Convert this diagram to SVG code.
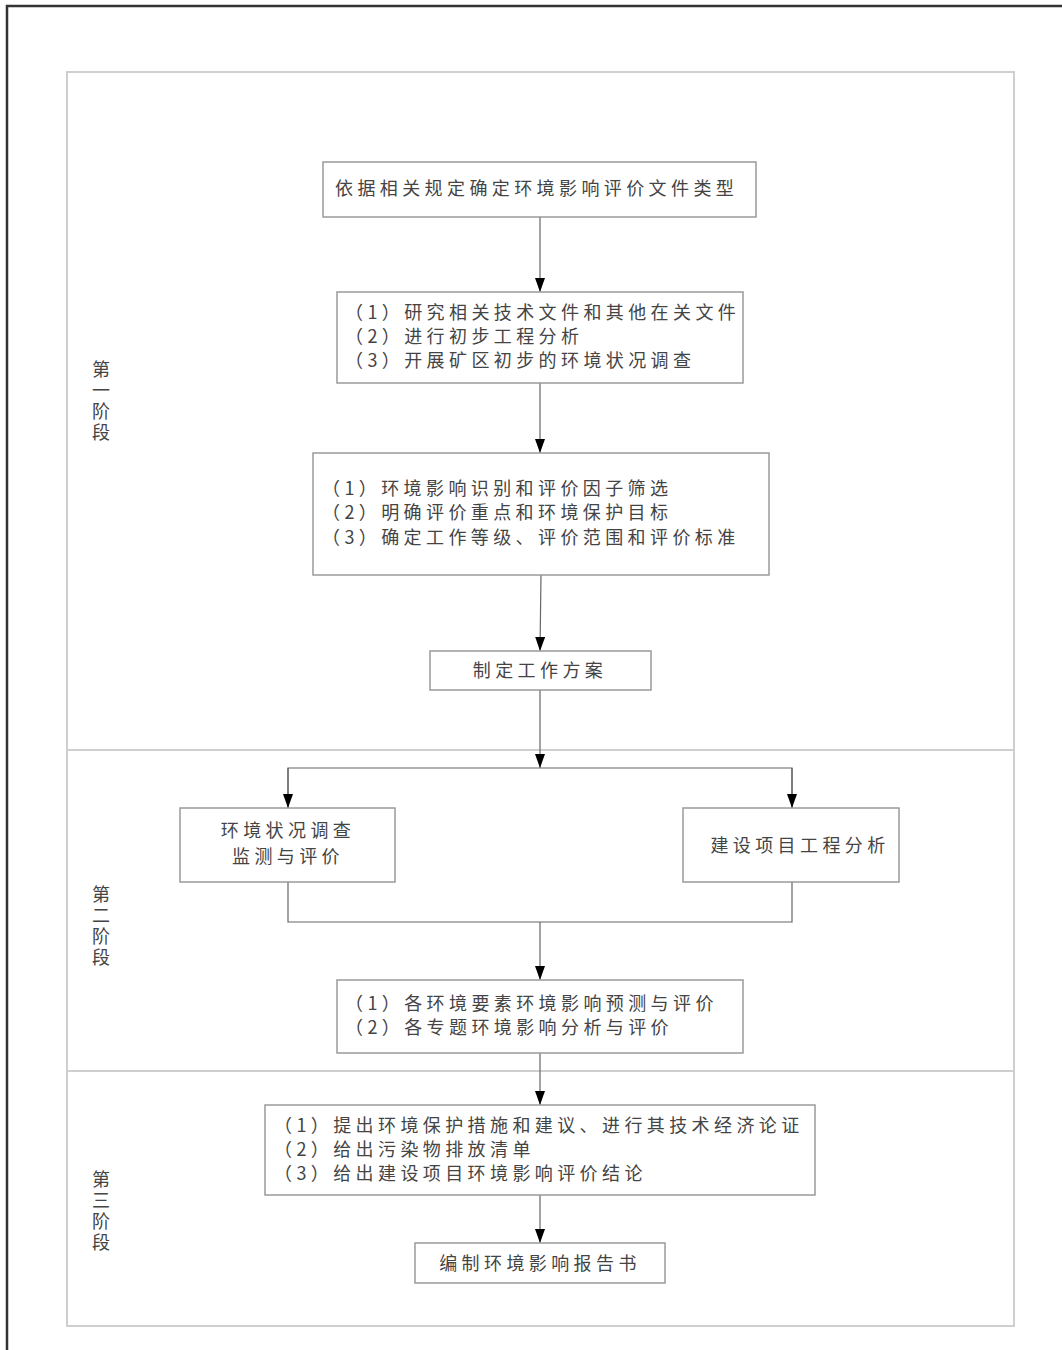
<svg xmlns="http://www.w3.org/2000/svg" width="1062" height="1350" viewBox="0 0 1062 1350">
<defs>
<style>
.bx{fill:#fff;stroke:#9a9a9a;stroke-width:1.5}
.t{font-family:"Noto Sans CJK SC","Liberation Serif",serif;font-size:18px;fill:#444;letter-spacing:4.4px}
.ph{font-family:"Noto Sans CJK SC","Liberation Serif",serif;font-size:18px;fill:#444;writing-mode:vertical-rl;letter-spacing:3px}
.c{fill:none;stroke:#666;stroke-width:1.2}
.fr{fill:none;stroke:#cfcfcf;stroke-width:2}
</style>
<marker id="ar" viewBox="0 0 14 10" refX="14" refY="5" markerWidth="14" markerHeight="10" markerUnits="userSpaceOnUse" orient="auto">
<path d="M0,0 L14,5 L0,10 Z" fill="#000"/>
</marker>
</defs>
<rect width="1062" height="1350" fill="#fff"/>
<rect x="7" y="6" width="1070" height="1360" fill="none" stroke="#333" stroke-width="2.5"/>
<g id="frame">
<rect class="fr" x="67" y="72" width="947" height="1254"/>
<line class="fr" x1="67" y1="750" x2="1014" y2="750"/>
<line class="fr" x1="67" y1="1071" x2="1014" y2="1071"/>
</g>
<g id="phase1"><text class="ph" x="101" y="360">第一阶段</text></g>
<g id="phase2"><text class="ph" x="101" y="885">第二阶段</text></g>
<g id="phase3"><text class="ph" x="101" y="1170">第三阶段</text></g>
<g id="connectors">
<line class="c" x1="540" y1="217" x2="540" y2="292" marker-end="url(#ar)"/>
<line class="c" x1="540" y1="383" x2="540" y2="453" marker-end="url(#ar)"/>
<line class="c" x1="541" y1="575" x2="540" y2="651" marker-end="url(#ar)"/>
<line class="c" x1="540" y1="690" x2="540" y2="768" marker-end="url(#ar)"/>
<polyline class="c" points="288,808 288,768 792,768 792,808"/>
<line class="c" x1="288" y1="768" x2="288" y2="808" marker-end="url(#ar)"/>
<line class="c" x1="792" y1="768" x2="792" y2="808" marker-end="url(#ar)"/>
<polyline class="c" points="288,882 288,922 792,922 792,882"/>
<line class="c" x1="540" y1="922" x2="540" y2="980" marker-end="url(#ar)"/>
<line class="c" x1="540" y1="1053" x2="540" y2="1105" marker-end="url(#ar)"/>
<line class="c" x1="540" y1="1195" x2="540" y2="1243" marker-end="url(#ar)"/>
</g>
<g id="n1"><rect class="bx" x="323" y="162" width="433" height="55"/>
<text class="t" x="335" y="195">依据相关规定确定环境影响评价文件类型</text></g>
<g id="n2"><rect class="bx" x="337" y="292" width="406" height="91"/>
<text class="t" x="345" y="319">（1）研究相关技术文件和其他在关文件</text>
<text class="t" x="345" y="343">（2）进行初步工程分析</text>
<text class="t" x="345" y="367">（3）开展矿区初步的环境状况调查</text></g>
<g id="n3"><rect class="bx" x="313" y="453" width="456" height="122"/>
<text class="t" x="322" y="495">（1）环境影响识别和评价因子筛选</text>
<text class="t" x="322" y="519">（2）明确评价重点和环境保护目标</text>
<text class="t" x="322" y="544">（3）确定工作等级、评价范围和评价标准</text></g>
<g id="n4"><rect class="bx" x="430" y="651" width="221" height="39"/>
<text class="t" x="540" y="677" text-anchor="middle">制定工作方案</text></g>
<g id="n5"><rect class="bx" x="180" y="808" width="215" height="74"/>
<text class="t" x="288" y="837" text-anchor="middle">环境状况调查</text>
<text class="t" x="288" y="863" text-anchor="middle">监测与评价</text></g>
<g id="n6"><rect class="bx" x="683" y="808" width="216" height="74"/>
<text class="t" x="800" y="852" text-anchor="middle">建设项目工程分析</text></g>
<g id="n7"><rect class="bx" x="337" y="980" width="406" height="73"/>
<text class="t" x="345" y="1010">（1）各环境要素环境影响预测与评价</text>
<text class="t" x="345" y="1034">（2）各专题环境影响分析与评价</text></g>
<g id="n8"><rect class="bx" x="265" y="1105" width="550" height="90"/>
<text class="t" x="274" y="1132">（1）提出环境保护措施和建议、进行其技术经济论证</text>
<text class="t" x="274" y="1156">（2）给出污染物排放清单</text>
<text class="t" x="274" y="1180">（3）给出建设项目环境影响评价结论</text></g>
<g id="n9"><rect class="bx" x="415" y="1243" width="250" height="40"/>
<text class="t" x="540" y="1270" text-anchor="middle">编制环境影响报告书</text></g>
</svg>
